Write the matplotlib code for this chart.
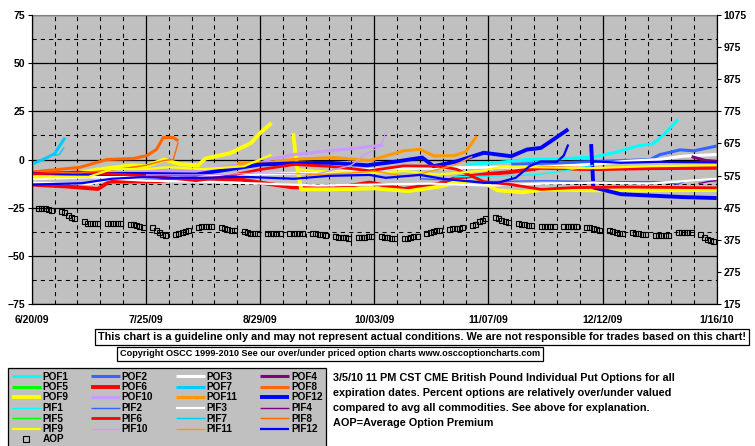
import numpy as np
import pandas as pd
import matplotlib
matplotlib.use("Agg")
import matplotlib.pyplot as plt
from matplotlib.lines import Line2D

plt.rcParams['font.family'] = ['Liberation Sans Narrow', 'Liberation Sans', 'DejaVu Sans']
plt.rcParams['font.weight'] = 'bold'

# ---- data (x in weeks from 6/20/09, y in percent over/under) ----
start = pd.Timestamp('2009-06-20')
end = pd.Timestamp('2010-01-16')
xlabels = ['6/20/09', '7/25/09', '8/29/09', '10/03/09', '11/07/09', '12/12/09', '1/16/10']
nan = np.nan

pof1_wk = [19.0, 20.5, 21.7, 23.0, 24.6, 25.6, 26.6, 27.2, 27.7, 28.3]
pof1_val = [-2.6, -1.5, 0.0, 0.3, 1.2, 3.8, 7.2, 8.1, 13.0, 20.7]
pif1_wk = [18.5, 20.5, 22.0, 23.3, 24.6]
pif1_val = [-9, -8.5, -8, -6, -3]

pof2_wk = [21, 23.6, 25, 27.1, 27.5, 28.4, 29, 30]
pof2_val = [-2.5, -1.5, -1, 0, 2.5, 5, 4.5, 7]
pif2_wk = [17, 20, 22.5, 24.6, 27.5, 28.3, 28.6, 30]
pif2_val = [-10, -11.5, -11, -11.5, -11.5, -12.8, -11.3, -10.4]

pof3_wk = [0, 2.5, 5, 7.5, 10, 12.5, 15, 17.5, 20, 22.5, 24.6, 26, 27.5, 28.5, 30]
pof3_val = [-10, -9, -9.5, -8.5, -7.5, -7, -5, -4.5, -4, -4, -2.5, -1, 0, 1.7, 2.6]
pif3_wk = [0, 2.6, 3.5, 5, 7.5, 10, 12.5, 15, 17.5, 20, 22.5, 24.6, 27, 30]
pif3_val = [-12, -12.7, -10, -11, -11.5, -12.5, -13.5, -13, -12.5, -13.5, -12.5, -12, -12.5, -10]

pof4_wk = [28.9, 29.2, 29.5, 30]
pof4_val = [1.5, 0.5, -0.5, -1]
pif4_wk = [29.2, 29.6, 30]
pif4_val = [-12.5, -11.5, -11]

pof5_wk, pof5_val = [], []
pif5_wk, pif5_val = [], []

pof6_wk = [0, 1.5, 2.9, 3.4, 5.5, 6.5, 8, 9.2, 10.4, 11.4, 13.2, 14.8, 16.3, 17.8, 18.6, 20, 21, 22.3, 24.6, 27, 30]
pof6_val = [-13, -14, -15.3, -11.5, -11.3, -10, -10, -10.5, -12.7, -14.4, -15, -12, -15.3, -12.7, -9.5, -7.5, -6.5, -4.3, -5, -4.5, -4.3]
pif6_wk = [0, 2, 3.5, 5, 6, 7.2, 8.6, 10, 11.5, 13, 14.8, 16.3, 17.8, 18.6, 19.8, 21, 22.3, 23.7, 26, 30]
pif6_val = [-7.5, -6.5, -7.5, -8.5, -9.5, -11, -8.6, -5.2, -2.6, -3.5, -5.8, -3.3, -3.5, -5, -11.5, -13, -15.5, -14.6, -14.3, -14.7]

pof7_wk = [0, 0.5, 1.0, 1.46]
pof7_val = [-2.4, 0, 3, 11.4]
pif7_wk = [0.9, 1.2, 1.42]
pif7_val = [2, 2.5, 6.2]

pof8_wk = [0, 2.1, 3.3, 4.45, 5.04, 5.47, 5.76, 6.2, 6.42]
pof8_val = [-6.5, -4.1, 0, 0.5, 2, 5.3, 11.4, 11.4, 9.7]
pif8_wk = [0, 2, 3.5, 5, 5.8, 6.2, 6.42]
pif8_val = [-6, -7, -5.5, -3, -0.5, 0, 9]

pof9_wk = [0, 2, 3, 4.4, 5, 5.8, 6.5, 7.3, 7.6, 8.2, 8.7, 9.6, 10, 10.5, 11.0, 11.45, 11.6, 11.8,
           13, 15, 16.5, 18, 18.7, 19.8, 20.4, 21.5, 22.5, 24.5, 27, 30]
pof9_val = [-8, -7, -5, -3, -3.5, 0, -2.5, -3, 0.5, 2, 3.3, 8.5, 13.7, 18.9, nan, 13.8, -2, -15.5,
            -15.5, -15, -16.4, -13.8, -11.2, -12, -16, -17, -15.5, -16, -16, -15.8]
pif9_wk = [0, 2.5, 3.5, 5, 6, 7.5, 8.7, 9.3, 10, 10.5, 11.0, 11.6, 12.5, 14, 15, 16.3, 17.8, 18.7,
           19.8, 20.5, 22, 24.5, 27, 30]
pif9_val = [-9.2, -9, -5, -5, -4, -5, -4, -3.5, 0, 2.5, nan, -5, -6, -6.5, -7, -6, -7.8, -6.9,
            -5.7, -4, -4, -4.5, -3.5, -3]

pof10_wk = [2.2, 4.4, 5.7, 7.2, 8.6, 10, 10.4, 11.5, 13, 14.3, 15.4]
pof10_val = [-7.5, -6.6, -5.7, -6, -3.5, -2, 0, 2.6, 4.5, 6, 7.5]
pif10_wk = [5, 7.5, 10, 12.5, 14, 14.5, 15.3, 15.5]
pif10_val = [-8, -8, -7, -7.5, -3, 1.9, 7, 14]

pof11_wk = [9, 10.4, 11.4, 13.2, 14.8, 16.3, 17, 17.6, 18.5, 19, 19.5]
pof11_val = [-2, -1.5, 0, 1, -0.5, 4.5, 5.3, 1.9, 2, 4, 12.2]
pif11_wk = [12, 14, 15, 16.5, 17.5, 18.5, 19.3]
pif11_val = [-8, -7, -6, -9, -6, -3, 1.5]

pof12_wk = [0, 2.5, 5, 7.2, 8.6, 10, 11.5, 13, 14.7, 16, 17.1, 17.6, 18.6, 19.8, 21, 21.7, 22.3,
            22.8, 23.5, 24.0, 24.5, 24.6, 25.8, 28.5, 30]
pof12_val = [-7, -7.5, -7.5, -7.8, -5.2, -2.6, -2, -1.7, -3, -1, 1, -3.5, -1, 3.5, 1.7, 5.2, 6,
             10, 15.7, nan, 8, -14.5, -18, -19.5, -20]
pif12_wk = [0, 2.2, 3.5, 4.8, 6, 7.5, 9.3, 11.5, 13, 14.8, 15.5, 17, 18, 19.8, 20.4, 21.2, 21.8,
            22.3, 23, 23.3, 23.5, 24.0, 24.6, 25.8, 27.5, 30]
pif12_val = [-13, -12.3, -10, -9.2, -9.5, -9.5, -9, -10, -8.5, -8, -9.5, -8, -10, -12.1, -12.1,
             -9.5, -3.5, -1, -1.2, 2, 7.8, nan, -1, -1.7, -1.2, -1.5]

# average option premium, one value per trading day (right axis)
aop_val = [
    475, 475, 475, 470, 467,  465, 460, 453, 447, 443,  435, 428, 428, 428, 428,
    428, 428, 428, 428, 428,  425, 423, 420, 417, 415,  415, 407, 400, 393, 390,
    393, 397, 400, 403, 407,  415, 417, 418, 418, 418,  415, 412, 410, 407, 407,
    403, 400, 397, 395, 395,  395, 395, 395, 395, 395,  397, 397, 397, 397, 397,
    395, 395, 393, 392, 390,  387, 385, 384, 383, 382,  385, 385, 385, 386, 387,
    387, 385, 384, 382, 380,  380, 382, 384, 386, 387,  395, 400, 403, 405, 407,
    410, 412, 412, 413, 415,  420, 425, 432, 437, 443,  447, 442, 438, 433, 430,
    427, 425, 423, 421, 420,  417, 417, 417, 417, 417,  417, 417, 417, 417, 417,
    415, 415, 412, 410, 407,  407, 403, 400, 397, 395,  398, 396, 395, 393, 393,
    390, 390, 390, 390, 390,  398, 398, 398, 398, 398,  393, 385, 377, 373, 370,
]
aop_dates = pd.bdate_range('2009-06-22', periods=len(aop_val))

series = [
    ('POF1', pof1_wk, pof1_val, '#00FFFF', 2.2), ('POF2', pof2_wk, pof2_val, '#3366FF', 2.2),
    ('POF3', pof3_wk, pof3_val, '#FFFFFF', 2.2), ('POF4', pof4_wk, pof4_val, '#800080', 2.2),
    ('POF5', pof5_wk, pof5_val, '#00FF00', 2.2), ('POF6', pof6_wk, pof6_val, '#FF0000', 2.8),
    ('POF7', pof7_wk, pof7_val, '#00CCFF', 2.2), ('POF8', pof8_wk, pof8_val, '#FF6600', 2.2),
    ('POF9', pof9_wk, pof9_val, '#FFFF00', 2.8), ('POF10', pof10_wk, pof10_val, '#CC99FF', 2.2),
    ('POF11', pof11_wk, pof11_val, '#FF9900', 2.2), ('POF12', pof12_wk, pof12_val, '#0000FF', 2.8),
    ('PIF1', pif1_wk, pif1_val, '#00FFFF', 1.0), ('PIF2', pif2_wk, pif2_val, '#3366FF', 1.0),
    ('PIF3', pif3_wk, pif3_val, '#FFFFFF', 1.6), ('PIF4', pif4_wk, pif4_val, '#800080', 1.0),
    ('PIF5', pif5_wk, pif5_val, '#00FF00', 1.0), ('PIF6', pif6_wk, pif6_val, '#FF0000', 2.0),
    ('PIF7', pif7_wk, pif7_val, '#00CCFF', 1.0), ('PIF8', pif8_wk, pif8_val, '#FF6600', 1.0),
    ('PIF9', pif9_wk, pif9_val, '#FFFF00', 1.6), ('PIF10', pif10_wk, pif10_val, '#CC99FF', 1.0),
    ('PIF11', pif11_wk, pif11_val, '#FF9900', 1.0), ('PIF12', pif12_wk, pif12_val, '#0000FF', 1.6),
]


def to_dates(wk):
    return start + pd.to_timedelta(np.asarray(wk, dtype=float) * 7, unit='D')


fig = plt.figure(figsize=(7.55, 4.46), dpi=100)
fig.patch.set_facecolor('white')
ax = fig.add_axes([31.7 / 755, 1 - 304 / 446, 685 / 755, 289 / 446])
ax.set_facecolor('#C0C0C0')

handles = {}
for name, wk, val, col, lw in series:
    h, = ax.plot(to_dates(wk), val, color=col, lw=lw, solid_capstyle='butt')
    handles[name] = h

ax.set_xlim(start, end)
ax.set_ylim(-75, 75)
ax.set_xticks(pd.date_range(start, end, freq='35D'))
ax.set_xticks(pd.date_range(start, end, freq='7D'), minor=True)
ax.set_xticklabels(xlabels, fontsize=7.5)
ax.set_yticks(np.arange(-75, 76, 25))
ax.set_yticks(np.arange(-62.5, 75, 25), minor=True)
ax.tick_params(axis='y', which='major', length=3, labelsize=7.5, pad=2)
ax.tick_params(axis='x', which='major', length=0, labelsize=7.5, pad=8)
ax.tick_params(which='minor', length=0)
ax.set_axisbelow(True)
ax.grid(which='major', color='black', lw=0.9, ls='-')
ax.grid(which='minor', color='black', lw=0.75, ls=(0, (4, 4)))
for s in ['left', 'bottom', 'right']:
    ax.spines[s].set_color('black')
ax.spines['top'].set_color('#808080')

ax2 = ax.twinx()
ax2.plot(aop_dates, aop_val, ls='none', marker='s', ms=3.6, mfc='none', mec='black', mew=0.8)
ax2.set_ylim(175, 1075)
ax2.set_yticks(np.arange(175, 1076, 100))
ax2.tick_params(axis='y', length=3, labelsize=7.5, pad=2)
ax2.spines['top'].set_visible(False)
handles['AOP'] = Line2D([], [], ls='none', marker='s', ms=4, mfc='none', mec='black', mew=0.8)

# disclaimer boxes
box = dict(boxstyle='square,pad=0.3', fc='white', ec='black', lw=0.9)
fig.text(422 / 755, 1 - 337 / 446, 'This chart is a guideline only and may not represent actual conditions. '
         'We are not responsible for trades based on this chart!', ha='center', va='center',
         fontsize=7.8, bbox=box)
fig.text(330 / 755, 1 - 354 / 446, 'Copyright OSCC 1999-2010 See our over/under priced option charts '
         'www.osccoptioncharts.com', ha='center', va='center', fontsize=6.6, bbox=box)

order = ['POF1', 'POF5', 'POF9', 'PIF1', 'PIF5', 'PIF9', 'AOP',
         'POF2', 'POF6', 'POF10', 'PIF2', 'PIF6', 'PIF10',
         'POF3', 'POF7', 'POF11', 'PIF3', 'PIF7', 'PIF11',
         'POF4', 'POF8', 'POF12', 'PIF4', 'PIF8', 'PIF12']
leg = fig.legend([handles[k] for k in order], order, ncol=4, loc='upper left',
                 bbox_to_anchor=(8 / 755, 1 - 442 / 446, 318 / 755, 74 / 446), mode='expand',
                 fontsize=7.2, frameon=True, fancybox=False, framealpha=1, facecolor='#C0C0C0',
                 edgecolor='black', handlelength=2.9, handletextpad=0.2, labelspacing=0.05,
                 borderpad=0.35, borderaxespad=0, columnspacing=0.5)
leg.get_frame().set_linewidth(0.9)

notes = ['3/5/10 11 PM CST CME British Pound Individual Put Options for all',
         'expiration dates. Percent options are relatively over/under valued',
         'compared to avg all commodities. See above for explanation.',
         'AOP=Average Option Premium']
for i, line in enumerate(notes):
    fig.text(333 / 755, 1 - (378 + 15 * i) / 446, line, ha='left', va='center', fontsize=7.8)

fig.savefig('out.png', dpi=100, facecolor='white')
